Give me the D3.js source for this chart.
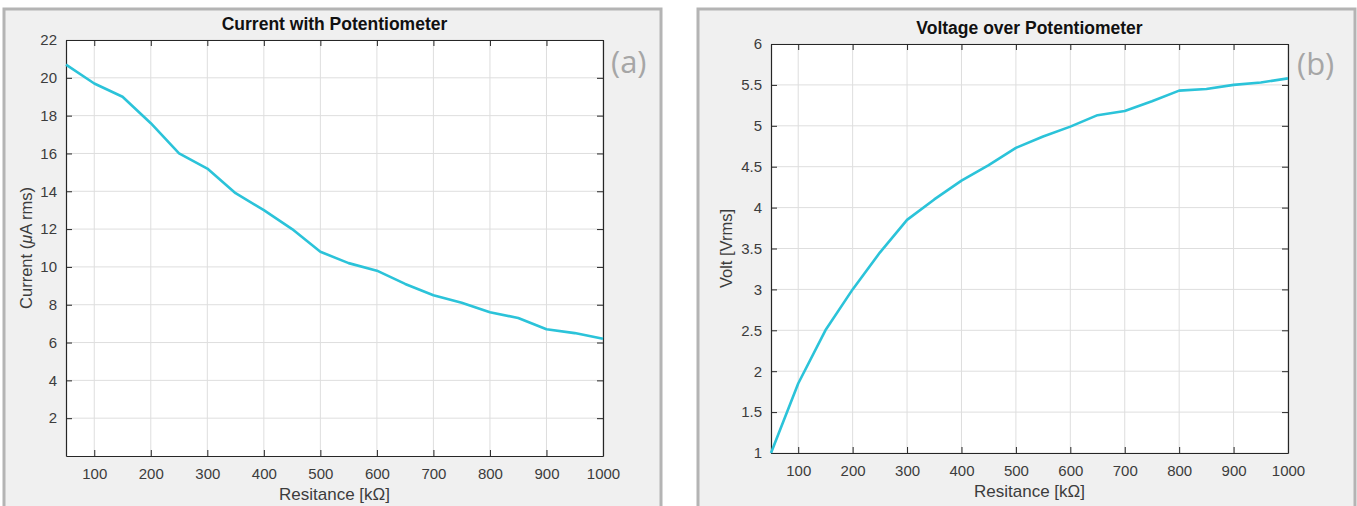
<!DOCTYPE html>
<html>
<head>
<meta charset="utf-8">
<script src="https://cdn.jsdelivr.net/npm/d3@7"></script>
<style>
  body { margin: 0; background: #fff; }
  text { font-family: "Liberation Sans", Arial, sans-serif; }
</style>
</head>
<body>
<svg id="chart" width="1357" height="506"></svg>
<script>
const resistance = [50, 100, 150, 200, 250, 300, 350, 400, 450, 500,
                    550, 600, 650, 700, 750, 800, 850, 900, 950, 1000];
const current = [20.7, 19.7, 19.0, 17.6, 16.0, 15.2, 13.9, 13.0, 12.0, 10.8,
                 10.2, 9.8, 9.1, 8.5, 8.1, 7.6, 7.3, 6.7, 6.5, 6.2];
const voltage = [1.0, 1.85, 2.5, 3.0, 3.45, 3.85, 4.1, 4.33, 4.52, 4.73,
                 4.87, 4.99, 5.13, 5.18, 5.3, 5.43, 5.45, 5.5, 5.53, 5.58];
const xTicks = [100, 200, 300, 400, 500, 600, 700, 800, 900, 1000];
const currentTicks = [2, 4, 6, 8, 10, 12, 14, 16, 18, 20, 22];
const voltTicks = [1, 1.5, 2, 2.5, 3, 3.5, 4, 4.5, 5, 5.5, 6];

const svg = d3.select('#chart');
const LINE_COLOR = '#2bc3d9';
const AXIS_COLOR = '#262626';

function drawPanel(opts) {
    const { box, plot, yDomain, yTicks, values, title, yLabel, yLabelX, tag } = opts;

    // grey figure background with border
    svg.append('rect')
        .attr('x', box.x).attr('y', box.y)
        .attr('width', box.w).attr('height', box.h)
        .attr('fill', '#f0f0f0')
        .attr('stroke', '#b4b4b4').attr('stroke-width', 3);

    const x = d3.scaleLinear().domain([50, 1000]).range([plot.left, plot.right]);
    const y = d3.scaleLinear().domain(yDomain).range([plot.bottom, plot.top]);

    svg.append('rect')
        .attr('x', plot.left).attr('y', plot.top)
        .attr('width', plot.right - plot.left).attr('height', plot.bottom - plot.top)
        .attr('fill', '#fff');

    // grid
    const g = svg.append('g');
    g.selectAll('.vg').data(xTicks).join('line')
        .attr('x1', d => x(d)).attr('x2', d => x(d))
        .attr('y1', plot.top).attr('y2', plot.bottom)
        .attr('stroke', '#dedede').attr('stroke-width', 1);
    g.selectAll('.hg').data(yTicks).join('line')
        .attr('y1', d => y(d)).attr('y2', d => y(d))
        .attr('x1', plot.left).attr('x2', plot.right)
        .attr('stroke', '#dedede').attr('stroke-width', 1);

    // axes, ticks inward on all sides
    const tickLen = 6;
    const bottomAxis = d3.axisBottom(x).tickValues(xTicks).tickSizeInner(-tickLen).tickSizeOuter(0).tickPadding(12)
        .tickFormat(d3.format('d'));
    const topAxis = d3.axisTop(x).tickValues(xTicks).tickSizeInner(-tickLen).tickSizeOuter(0).tickFormat('');
    const leftAxis = d3.axisLeft(y).tickValues(yTicks).tickSizeInner(-tickLen).tickSizeOuter(0).tickPadding(9)
        .tickFormat(d3.format('~g'));
    const rightAxis = d3.axisRight(y).tickValues(yTicks).tickSizeInner(-tickLen).tickSizeOuter(0).tickFormat('');

    const axes = [
        [bottomAxis, `translate(0,${plot.bottom})`],
        [topAxis, `translate(0,${plot.top})`],
        [leftAxis, `translate(${plot.left},0)`],
        [rightAxis, `translate(${plot.right},0)`]
    ];
    axes.forEach(([ax, tr]) => {
        const a = svg.append('g').attr('transform', tr).call(ax);
        a.select('.domain').attr('stroke', AXIS_COLOR).attr('stroke-width', 1.2);
        a.selectAll('.tick line').attr('stroke', AXIS_COLOR);
        a.selectAll('.tick text').attr('fill', '#3c3c3c')
            .style('font-size', '15px').style('font-family', '"Liberation Sans", Arial, sans-serif');
    });

    // line
    const line = d3.line().x((d, i) => x(resistance[i])).y(d => y(d));
    svg.append('path').datum(values)
        .attr('d', line)
        .attr('fill', 'none')
        .attr('stroke', LINE_COLOR).attr('stroke-width', 2.6)
        .attr('stroke-linejoin', 'round');

    // texts
    const cx = (plot.left + plot.right) / 2;
    svg.append('text').text(title)
        .attr('x', cx).attr('y', plot.top - 10)
        .attr('text-anchor', 'middle')
        .style('font-size', '17.5px').style('font-weight', 'bold').attr('fill', '#111');
    svg.append('text').text('Resitance [kΩ]')
        .attr('x', cx).attr('y', plot.bottom + 44)
        .attr('text-anchor', 'middle')
        .style('font-size', '17px').attr('fill', '#3c3c3c');
    const yl = svg.append('text')
        .attr('transform', `translate(${yLabelX},${(plot.top + plot.bottom) / 2}) rotate(-90)`)
        .attr('text-anchor', 'middle')
        .style('font-size', '16.5px').attr('fill', '#3c3c3c');
    yLabel.forEach(part => {
        yl.append('tspan').text(part.t).style('font-style', part.italic ? 'italic' : 'normal');
    });
    svg.append('text').text(tag.text)
        .attr('x', tag.x).attr('y', tag.y)
        .style('font-family', '"Open Sans", "Noto Sans", sans-serif')
        .style('font-size', '31px').attr('fill', '#a6a6a6');
}

drawPanel({
    box: { x: 4, y: 9, w: 657, h: 505 },
    plot: { left: 66, right: 603, top: 40, bottom: 456 },
    yDomain: [0, 22], yTicks: currentTicks, values: current,
    title: 'Current with Potentiometer',
    yLabel: [{ t: 'Current (' }, { t: 'μ', italic: true }, { t: 'A rms)' }], yLabelX: 32,
    tag: { text: '(a)', x: 611, y: 73 }
});

drawPanel({
    box: { x: 698, y: 9, w: 657, h: 505 },
    plot: { left: 771, right: 1288, top: 44, bottom: 453 },
    yDomain: [1, 6], yTicks: voltTicks, values: voltage,
    title: 'Voltage over Potentiometer',
    yLabel: [{ t: 'Volt [Vrms]' }], yLabelX: 732,
    tag: { text: '(b)', x: 1297, y: 75 }
});
</script>
</body>
</html>
